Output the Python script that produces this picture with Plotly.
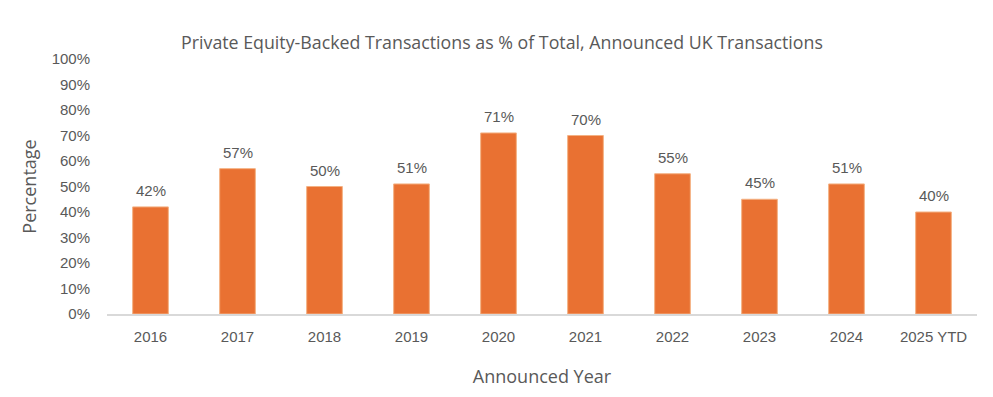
import plotly.graph_objects as go

years = ["2016", "2017", "2018", "2019", "2020", "2021", "2022", "2023", "2024", "2025 YTD"]
pe_share = [42, 57, 50, 51, 71, 70, 55, 45, 51, 40]
y_ticks = list(range(0, 101, 10))
y_tick_labels = [f"{v}%" for v in y_ticks]

BAR_COLOR = "#E97132"
TEXT_COLOR = "#595959"

fig = go.Figure()
fig.add_trace(go.Bar(
    x=years, y=pe_share,
    marker=dict(color=BAR_COLOR, line=dict(color="#F4B183", width=1)),
    hoverinfo="x+y",
))

# data labels: x given as category index so the category axis places them exactly
for i, v in enumerate(pe_share):
    fig.add_annotation(x=i, y=v, text=f"{v}%", showarrow=False,
                       yanchor="bottom", yshift=6,
                       font=dict(family="Liberation Sans, Arial", size=15, color=TEXT_COLOR))

fig.update_layout(
    width=993, height=397,
    margin=dict(l=107, r=16, t=59, b=83, autoexpand=False),
    paper_bgcolor="white", plot_bgcolor="white",
    bargap=0.59,
    showlegend=False,
    title=dict(text="Private Equity-Backed Transactions as % of Total, Announced UK Transactions",
               x=502 / 993, xanchor="center", y=1 - 43 / 397, yanchor="middle",
               font=dict(family="Open Sans, Noto Sans", size=17.8, color=TEXT_COLOR)),
    xaxis=dict(
        type="category", automargin=False,
        categoryorder="array", categoryarray=years,
        range=[-0.5, len(years) - 0.5],
        showline=True, linecolor="#D9D9D9", linewidth=2, showgrid=False, ticks="",
        ticklabelstandoff=8,
        tickfont=dict(family="Liberation Sans, Arial", size=15, color=TEXT_COLOR),
        title=dict(text="Announced Year", standoff=26,
                   font=dict(family="Open Sans, Noto Sans", size=18, color=TEXT_COLOR)),
    ),
    yaxis=dict(
        range=[0, 100], tickvals=y_ticks, ticktext=y_tick_labels, automargin=False,
        showline=False, showgrid=False, zeroline=False, ticks="",
        ticklabelstandoff=16,
        tickfont=dict(family="Liberation Sans, Arial", size=15, color=TEXT_COLOR),
        title=dict(text="Percentage", standoff=10,
                   font=dict(family="Open Sans, Noto Sans", size=18, color=TEXT_COLOR)),
    ),
)

fig.write_html("out.html", config={"displayModeBar": False},
               post_script="document.body.style.margin='0';")
